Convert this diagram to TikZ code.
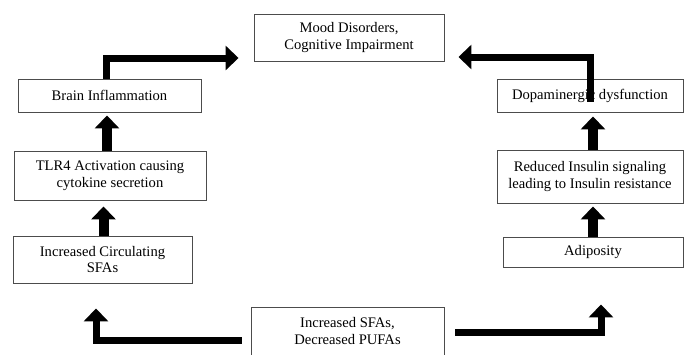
\documentclass[tikz,border=0pt]{standalone}
\usepackage{fontspec}
\setmainfont{Liberation Serif}
\usetikzlibrary{arrows.meta}

\begin{document}
\begin{tikzpicture}[x=1pt,y=-1pt,font=\fontsize{14.6}{16.5}\selectfont,
  box/.style={draw=black!70,line width=0.9pt,align=center,inner sep=0pt},
  elbow/.style={line width=7pt,-{Triangle[width=24pt,length=13pt]}},
  ar/.style={line width=10pt,-{Triangle[width=24pt,length=13pt]}}]
\useasboundingbox (0,0) rectangle (694,354);
\clip (0,0) rectangle (694,354);
\node[box,minimum width=190pt,minimum height=47pt] (mood) at (349,37.5) {Mood Disorders,\\Cognitive Impairment};
% left chain
\node[box,minimum width=183pt,minimum height=33pt] (brain) at (109.5,95.5) {Brain Inflammation};
\node[box,minimum width=192pt,minimum height=49pt] (tlr) at (110,175.5) {TLR4 Activation causing\\cytokine secretion};
\node[box,minimum width=179pt,minimum height=47pt] (circ) at (102.5,259.5) {Increased Circulating\\SFAs};
% right chain
\node[box,minimum width=186pt,minimum height=33pt] (dopa) at (590,95.5) {Dopaminergic dysfunction};
\node[box,minimum width=186pt,minimum height=53pt] (insulin) at (590,176.5) {Reduced Insulin signaling\\leading to Insulin resistance};
\node[box,minimum width=180pt,minimum height=30pt] (adip) at (593,252) {Adiposity};
% diet
\node[box,minimum width=193pt,minimum height=48pt] (diet) at (347.5,331) {Increased SFAs,\\Decreased PUFAs};

\draw[ar,shorten >=6pt] ([xshift=1pt]circ.north) -- ([xshift=1pt]circ.north |- tlr.south);
\draw[ar,shorten >=3pt] ([xshift=-3pt]tlr.north) -- ([xshift=-3pt]tlr.north |- brain.south);
\draw[ar,shorten >=3pt] (adip.north) -- (adip.north |- insulin.south);
\draw[ar,shorten >=4pt] ([xshift=3pt]insulin.north) -- ([xshift=3pt]insulin.north |- dopa.south);
\draw[elbow] ([xshift=-3.5pt]brain.north) |- ([xshift=-15pt,yshift=-20.5pt]mood.west);
\draw[elbow] ([yshift=-23pt]dopa.north) |- ([xshift=14pt,yshift=-19.5pt]mood.east);
\draw[elbow,shorten >=25pt] ([xshift=-9pt,yshift=-9pt]diet.west) -| ([xshift=-6.5pt]circ.south);
\draw[elbow,shorten >=37pt] ([xshift=11pt,yshift=-1pt]diet.east) -| ([xshift=8pt]adip.south);
\end{tikzpicture}
\end{document}
